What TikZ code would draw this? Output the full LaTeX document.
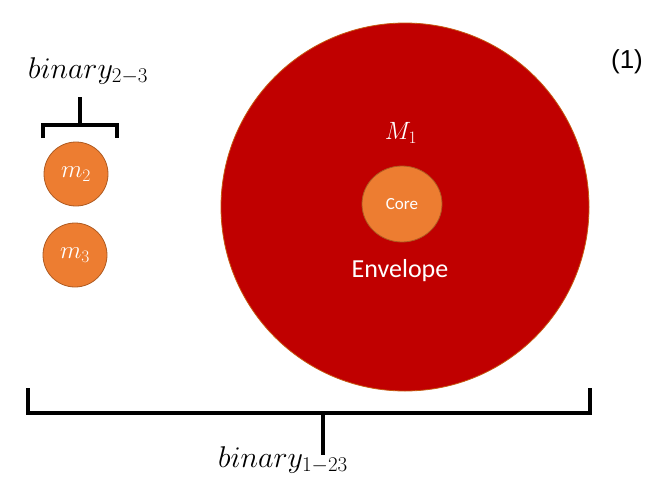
\RequirePackage{fix-cm}
\documentclass[tikz,border=0pt]{standalone}
\usepackage{fontspec}
\setsansfont{Carlito}
\newfontfamily\arialfont{Liberation Sans}
\usetikzlibrary{shapes.geometric}
\definecolor{envred}{HTML}{C00000}
\definecolor{envedge}{HTML}{C55A11}
\definecolor{orng}{HTML}{ED7D31}
\definecolor{orngedge}{HTML}{AE5A21}
\tikzset{
  body/.style={circle,fill=orng,draw=orngedge,line width=0.8pt,minimum size=64pt,inner sep=0pt,text=white,font=\fontsize{25}{28}\selectfont},
  brk/.style={line width=3.5pt,black},
  lbl/.style={font=\fontsize{30}{33}\selectfont,inner sep=0pt,anchor=base}
}
\begin{document}
\begin{tikzpicture}[x=1pt,y=-1pt]
\useasboundingbox (0,0) rectangle (664,488);
\node[circle,fill=envred,draw=envedge,line width=0.8pt,minimum size=368pt,inner sep=0pt] (env) at (405,207) {};
\node[ellipse,fill=orng,draw=orngedge,line width=0.8pt,minimum width=80pt,minimum height=76pt,inner sep=0pt,text=white,font=\sffamily\fontsize{17}{19}\selectfont] (core) at (402,204) {Core};
\node[text=white,font=\fontsize{25}{28}\selectfont] (M1) at (401,133) {$M_1$};
\node[text=white,font=\sffamily\fontsize{26}{29}\selectfont] (envl) at (400,271) {Envelope};
\node[body] (m2) at (76,174) {$m_2$};
\node[body] (m3) at (75,255) {$m_3$};
\node[font=\arialfont\fontsize{26}{28}\selectfont] (eq) at (627,62) {(1)};
% small bracket
\coordinate (s1) at (43,138);
\coordinate (s2) at (43,125);
\coordinate (s3) at (117,125);
\coordinate (s4) at (117,138);
\coordinate (sm) at (80,125);
\coordinate (st) at (80,97);
\draw[brk] (s1) -- (s2) -- (s3) -- (s4);
\draw[brk] (sm) -- (st);
\node[lbl] (b23) at (88,78) {$binary_{2-3}$};
% big bracket
\coordinate (b1) at (28,388);
\coordinate (b2) at (28,413);
\coordinate (b3) at (590,413);
\coordinate (b4) at (590,388);
\coordinate (bm) at (323,413);
\coordinate (bt) at (323,455);
\draw[brk] (b1) -- (b2) -- (b3) -- (b4);
\draw[brk] (bm) -- (bt);
\node[lbl] (b123) at (283,467) {$binary_{1-23}$};
\end{tikzpicture}
\end{document}
